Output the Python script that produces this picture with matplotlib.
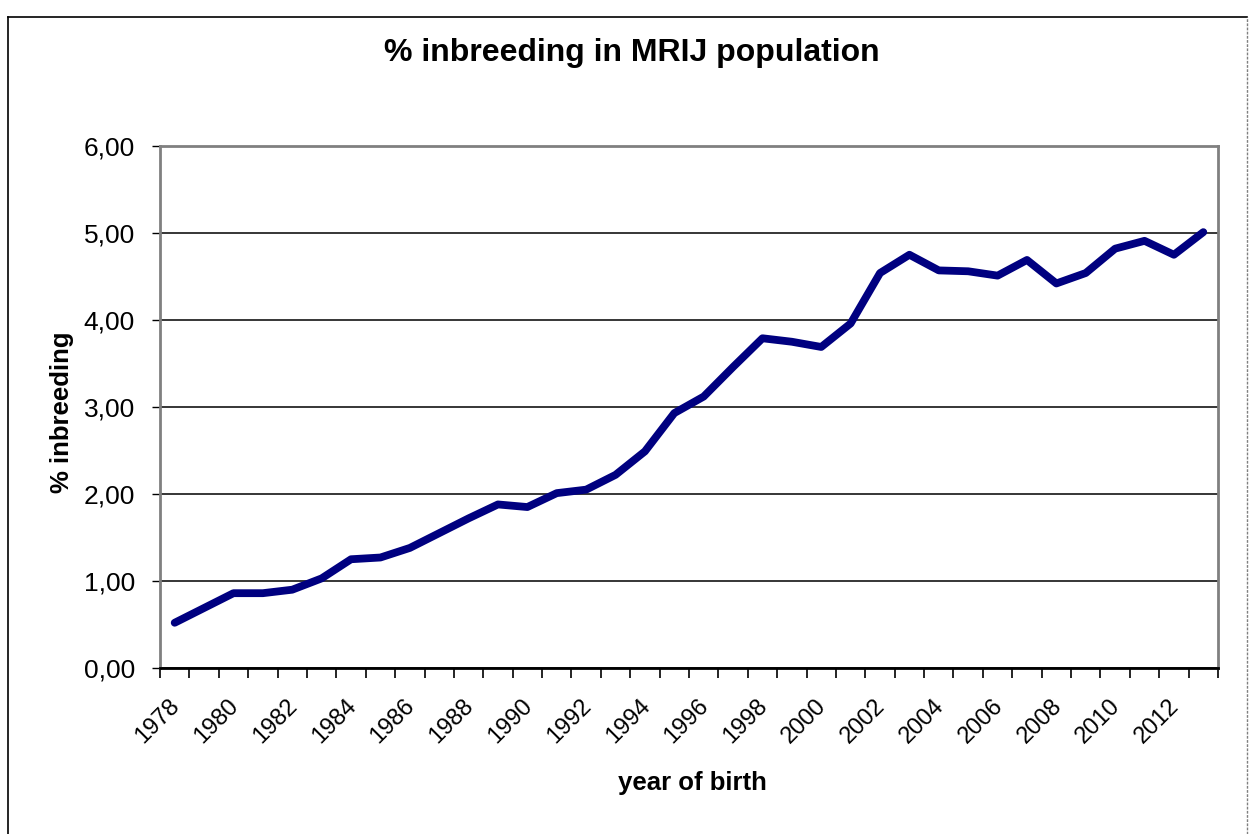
import matplotlib
matplotlib.use("Agg")
import matplotlib.pyplot as plt
from matplotlib.lines import Line2D
from matplotlib.ticker import FixedLocator, FuncFormatter
import numpy as np

plt.rcParams['font.family'] = ['Liberation Sans', 'DejaVu Sans']

# values
years = list(range(1978, 2014))
inbreeding = [0.52, 0.69, 0.86, 0.86, 0.90, 1.03, 1.25, 1.27, 1.38, 1.55,
              1.72, 1.88, 1.85, 2.01, 2.05, 2.22, 2.49, 2.93, 3.12, 3.46,
              3.79, 3.75, 3.69, 3.96, 4.54, 4.75, 4.57, 4.56, 4.51, 4.69,
              4.42, 4.54, 4.82, 4.91, 4.75, 5.01]
y_ticks = [0, 1, 2, 3, 4, 5, 6]
label_years = years[::2]

W, H = 1255, 834
fig = plt.figure(figsize=(W / 100, H / 100), dpi=100)
ax = fig.add_axes([160 / W, 1 - 668 / H, (1218 - 160) / W, (668 - 146) / H])

x = np.arange(len(years))
ax.plot(x, inbreeding, color='#000080', linewidth=5.6,
        solid_capstyle='round', solid_joinstyle='round', zorder=3)

ax.set_xlim(-0.5, len(years) - 0.5)
ax.set_ylim(0, 6)

# y axis
ax.yaxis.set_major_locator(FixedLocator(y_ticks))
ax.yaxis.set_major_formatter(FuncFormatter(lambda v, p: f"{v:.2f}".replace('.', ',')))
ax.tick_params(axis='y', length=6, width=1, pad=12, labelsize=19, color='black')
ax.grid(axis='y', color='black', linewidth=1.1)

# x axis: tick marks at category borders, labels every second year
ax.xaxis.set_major_locator(FixedLocator(np.arange(-0.5, len(years), 1.0)))
ax.xaxis.set_major_formatter(FuncFormatter(lambda v, p: ''))
ax.xaxis.set_minor_locator(FixedLocator([years.index(yr) - 0.2 for yr in label_years]))
ax.xaxis.set_minor_formatter(FuncFormatter(lambda v, p: str(years[int(round(v))])))
ax.tick_params(axis='x', which='major', length=7, width=1.2, color='black')
ax.tick_params(axis='x', which='minor', length=0, pad=19, labelsize=17)
for lbl in ax.xaxis.get_minorticklabels():
    lbl.set_rotation(45)
    lbl.set_ha('right')
    lbl.set_va('top')
    lbl.set_rotation_mode('anchor')

for side in ['left', 'top', 'right']:
    ax.spines[side].set_color('#808080')
    ax.spines[side].set_linewidth(2)
ax.spines['bottom'].set_color('black')
ax.spines['bottom'].set_linewidth(2)
ax.set_axisbelow(True)

# titles
fig.text(632 / W, 1 - 53 / H, "% inbreeding in MRIJ population",
         ha='center', va='center', fontsize=23, fontweight='bold')
fig.text(692 / W, 1 - 783 / H, "year of birth",
         ha='center', va='center', fontsize=18.5, fontweight='bold')
fig.text(62 / W, 1 - 412 / H, "% inbreeding", rotation=90,
         ha='center', va='center', fontsize=18.5, fontweight='bold')

# chart frame
fig.add_artist(Line2D([8 / W, 8 / W], [0, 1 - 17 / H], transform=fig.transFigure,
                      color='black', linewidth=1.2))
fig.add_artist(Line2D([8 / W, 1247 / W], [1 - 17 / H, 1 - 17 / H], transform=fig.transFigure,
                      color='black', linewidth=1.2))
fig.add_artist(Line2D([1247 / W, 1247 / W], [0, 1 - 17 / H], transform=fig.transFigure,
                      color='#808080', linewidth=1, linestyle=(0, (2, 1))))

fig.savefig("out.png", dpi=100)
